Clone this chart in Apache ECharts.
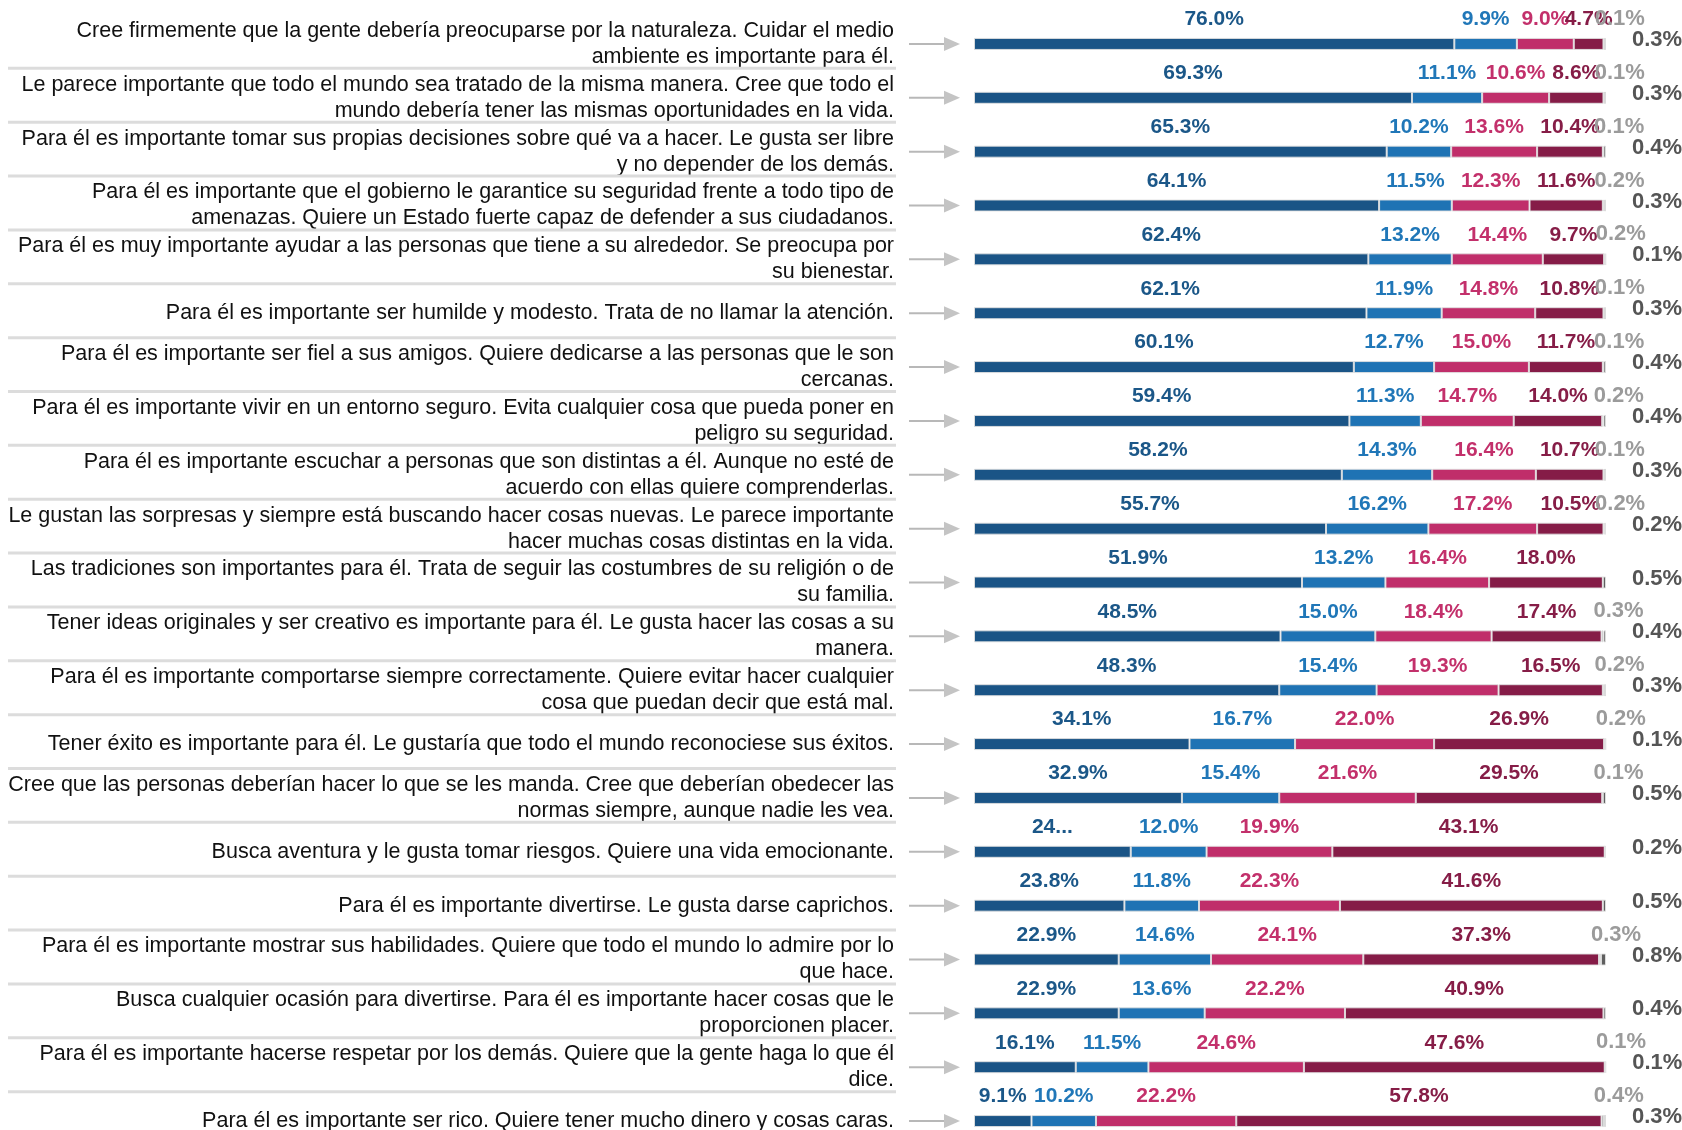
<!DOCTYPE html>
<html>
<head>
<meta charset="utf-8">
<title>Valores</title>
<script src="https://cdn.jsdelivr.net/npm/echarts@6/dist/echarts.min.js"></script>
<style>
  html, body { margin: 0; padding: 0; background: #fff; }
  #chart { width: 1682px; height: 1130px; }
</style>
</head>
<body>
<div id="chart"></div>
<script>
  // categorias (con el salto de linea del original)
  const categories = [
    "Cree firmemente que la gente debería preocuparse por la naturaleza. Cuidar el medio\nambiente es importante para él.",
    "Le parece importante que todo el mundo sea tratado de la misma manera. Cree que todo el\nmundo debería tener las mismas oportunidades en la vida.",
    "Para él es importante tomar sus propias decisiones sobre qué va a hacer. Le gusta ser libre\ny no depender de los demás.",
    "Para él es importante que el gobierno le garantice su seguridad frente a todo tipo de\namenazas. Quiere un Estado fuerte capaz de defender a sus ciudadanos.",
    "Para él es muy importante ayudar a las personas que tiene a su alrededor. Se preocupa por\nsu bienestar.",
    "Para él es importante ser humilde y modesto. Trata de no llamar la atención.",
    "Para él es importante ser fiel a sus amigos. Quiere dedicarse a las personas que le son\ncercanas.",
    "Para él es importante vivir en un entorno seguro. Evita cualquier cosa que pueda poner en\npeligro su seguridad.",
    "Para él es importante escuchar a personas que son distintas a él. Aunque no esté de\nacuerdo con ellas quiere comprenderlas.",
    "Le gustan las sorpresas y siempre está buscando hacer cosas nuevas. Le parece importante\nhacer muchas cosas distintas en la vida.",
    "Las tradiciones son importantes para él. Trata de seguir las costumbres de su religión o de\nsu familia.",
    "Tener ideas originales y ser creativo es importante para él. Le gusta hacer las cosas a su\nmanera.",
    "Para él es importante comportarse siempre correctamente. Quiere evitar hacer cualquier\ncosa que puedan decir que está mal.",
    "Tener éxito es importante para él. Le gustaría que todo el mundo reconociese sus éxitos.",
    "Cree que las personas deberían hacer lo que se les manda. Cree que deberían obedecer las\nnormas siempre, aunque nadie les vea.",
    "Busca aventura y le gusta tomar riesgos. Quiere una vida emocionante.",
    "Para él es importante divertirse. Le gusta darse caprichos.",
    "Para él es importante mostrar sus habilidades. Quiere que todo el mundo lo admire por lo\nque hace.",
    "Busca cualquier ocasión para divertirse. Para él es importante hacer cosas que le\nproporcionen placer.",
    "Para él es importante hacerse respetar por los demás. Quiere que la gente haga lo que él\ndice.",
    "Para él es importante ser rico. Quiere tener mucho dinero y cosas caras."
  ];

  // porcentajes por segmento
  const muyParecido = [76.0, 69.3, 65.3, 64.1, 62.4, 62.1, 60.1, 59.4, 58.2, 55.7, 51.9, 48.5, 48.3, 34.1, 32.9, 24.8, 23.8, 22.9, 22.9, 16.1, 9.1];
  const parecido = [9.9, 11.1, 10.2, 11.5, 13.2, 11.9, 12.7, 11.3, 14.3, 16.2, 13.2, 15.0, 15.4, 16.7, 15.4, 12.0, 11.8, 14.6, 13.6, 11.5, 10.2];
  const pocoParecido = [9.0, 10.6, 13.6, 12.3, 14.4, 14.8, 15.0, 14.7, 16.4, 17.2, 16.4, 18.4, 19.3, 22.0, 21.6, 19.9, 22.3, 24.1, 22.2, 24.6, 22.2];
  const nadaParecido = [4.7, 8.6, 10.4, 11.6, 9.7, 10.8, 11.7, 14.0, 10.7, 10.5, 18.0, 17.4, 16.5, 26.9, 29.5, 43.1, 41.6, 37.3, 40.9, 47.6, 57.8];
  const noSabe = [0.1, 0.1, 0.1, 0.2, 0.2, 0.1, 0.1, 0.2, 0.1, 0.2, 0, 0.3, 0.2, 0.2, 0.1, 0, 0, 0.3, 0, 0.1, 0.4];
  const noContesta = [0.3, 0.3, 0.4, 0.3, 0.1, 0.3, 0.4, 0.4, 0.3, 0.2, 0.5, 0.4, 0.3, 0.1, 0.5, 0.2, 0.5, 0.8, 0.4, 0.1, 0.3];

  // etiqueta recortada tal como aparece en el original
  const truncatedLabels = {15: "24..."};

  const font = "'Liberation Sans', Arial, Helvetica, sans-serif";
  const pct = v => v.toFixed(1) + "%";

  function barSeries(name, data, color, labelColor, label) {
    return {
      name: name,
      type: "bar",
      stack: "total",
      barWidth: 12,
      data: data,
      itemStyle: {color: color, borderColor: "rgba(225,225,225,0.9)", borderWidth: 1},
      label: Object.assign({
        show: true,
        position: "top",
        distance: 8,
        color: labelColor,
        fontFamily: font,
        fontSize: 21,
        fontWeight: "bold",
        formatter: p => p.value > 0 ? pct(p.value) : ""
      }, label || {}),
      emphasis: {disabled: true}
    };
  }

  let myChart = echarts.init(document.getElementById("chart"));
  let option = {
    animation: false,
    textStyle: {fontFamily: font},
    grid: {left: 974, width: 632, top: 17, height: 1131, outerBoundsMode: "none"},
    xAxis: {type: "value", min: 0, max: 100, show: false},
    yAxis: {
      type: "category",
      inverse: true,
      data: categories,
      axisLine: {show: false},
      axisTick: {show: false},
      axisLabel: {
        margin: 80,
        fontFamily: font,
        fontSize: 21.5,
        lineHeight: 26,
        color: "#111",
        align: "right"
      }
    },
    series: [
      barSeries("Muy parecido", muyParecido, "#1a5486", "#1b5788", {
        formatter: p => truncatedLabels[p.dataIndex] || pct(p.value)
      }),
      barSeries("Parecido", parecido, "#1f73b4", "#2077b8"),
      barSeries("Poco parecido", pocoParecido, "#c02e6a", "#c3306b"),
      barSeries("Nada parecido", nadaParecido, "#851c47", "#861d47"),
      barSeries("No sabe", noSabe, "#9a9a9a", "#9b9b9b", {offset: [16, 0], fontSize: 22}),
      barSeries("No contesta", noContesta, "#5f5f5f", "#555", {position: "right", distance: 26, offset: [0, -4], fontSize: 22}),
      {
        // flechas y lineas separadoras de la columna de textos
        type: "custom",
        clip: false,
        silent: true,
        data: categories.map((c, i) => [0, i]),
        encode: {x: 0, y: 1},
        renderItem: function (params, api) {
          let p = api.coord([0, api.value(1)]);
          let band = api.size([0, 1])[1];
          let children = [
            {type: "line", shape: {x1: p[0] - 65, y1: p[1], x2: p[0] - 29, y2: p[1]}, style: {stroke: "#b8b8b8", lineWidth: 2}},
            {type: "polygon", shape: {points: [[p[0] - 30, p[1] - 7], [p[0] - 14, p[1]], [p[0] - 30, p[1] + 7]]}, style: {fill: "#c4c4c4"}}
          ];
          if (params.dataIndex < categories.length - 1) {
            children.push({type: "rect", shape: {x: 8, y: p[1] + band / 2 - 4, width: 888, height: 3}, style: {fill: "#dcdcdc"}});
          }
          return {type: "group", children: children};
        }
      }
    ]
  };
  myChart.setOption(option);
</script>
</body>
</html>
